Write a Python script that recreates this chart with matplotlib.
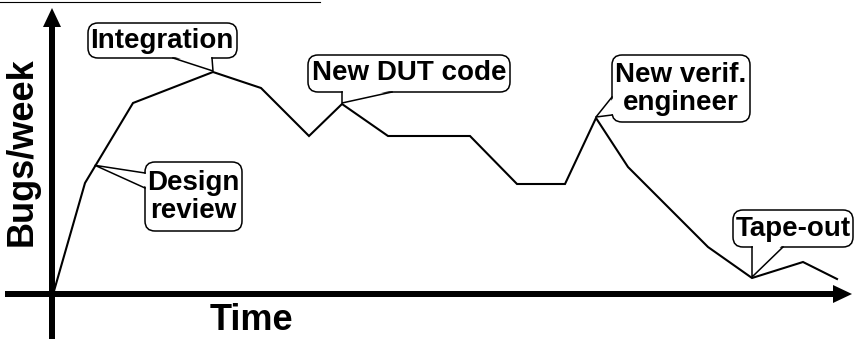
import numpy as np
import matplotlib.pyplot as plt
from matplotlib.patches import FancyBboxPatch, Polygon, FancyArrow

plt.rcParams['font.family'] = ['Liberation Sans', 'DejaVu Sans']

# bug rate over time (arbitrary units)
czas = [0, 31, 79, 159, 207, 255, 288, 334, 416, 463, 511, 542, 574, 654, 698, 749, 783]
bledy = [3, 111, 191, 222, 206, 158, 190, 158, 158, 110, 110, 176, 127, 47, 16, 32, 15]

etykiety = ['Integration', 'Design\nreview', 'New DUT code', 'New verif.\nengineer', 'Tape-out']
punkty_x = [159, 41, 288, 542, 698]   # where each callout points

fig = plt.figure(figsize=(8.55, 3.39), dpi=100)
ax = fig.add_axes([0, 0, 1, 1])
ax.set_xlim(-54, 801)
ax.set_ylim(-45, 294)
ax.axis('off')

# axes with arrows
ax.add_patch(FancyArrow(-49, 0, 847, 0, width=6, head_width=18, head_length=19,
                        length_includes_head=True, color='k', lw=0, zorder=2))
ax.add_patch(FancyArrow(-2, -45, 0, 331, width=6, head_width=18, head_length=19,
                        length_includes_head=True, color='k', lw=0, zorder=2))

ax.plot(czas, bledy, color='k', lw=1.5, zorder=3, solid_joinstyle='miter')

# thin rule at very top (remains of cropped caption)
ax.plot([-54, 266], [292, 292], color='k', lw=0.8)

ax.text(197, -27, 'Time', fontsize=26, fontweight='bold', ha='center', va='center')
ax.text(-32, 142, 'Bugs/week', fontsize=26, fontweight='bold', ha='center', va='center',
        rotation=90)

# callouts: box (x0, x1, y0, y1), tail base points, text centre
pudelka = [
    ((34, 183, 236, 271), [(119, 236), (158, 236)], (108, 253)),
    ((91, 188, 63, 132), [(91, 121), (91, 106)], (139, 97)),
    ((254, 456, 202, 239), [(288, 202), (338, 202)], (355, 221)),
    ((558, 696, 172, 239), [(558, 197), (558, 179)], (627, 205)),
    ((679, 799, 47, 84), [(698, 47), (729, 47)], (739, 65)),
]

for (box, baza, srodek), tekst, px in zip(pudelka, etykiety, punkty_x):
    x0, x1, y0, y1 = box
    py = np.interp(px, czas, bledy) + 1
    ax.add_patch(FancyBboxPatch((x0, y0), x1 - x0, y1 - y0,
                                boxstyle='round,pad=0,rounding_size=10',
                                fc='white', ec='k', lw=1.1, zorder=4))
    # white wedge hides the box border where the tail joins
    (ax_, ay_), (bx_, by_) = baza
    if ay_ == by_:
        wn = [(ax_ + 1, ay_ + 1.5), (bx_ - 1, by_ + 1.5)]
    else:
        wn = [(ax_ + 1.5, ay_ - 1), (bx_ + 1.5, by_ + 1)]
    ax.add_patch(Polygon([wn[0], (px, py), wn[1]], closed=True, fc='white', ec='none',
                         zorder=5))
    ax.plot([ax_, px, bx_], [ay_, py, by_], color='k', lw=1.1, zorder=6)
    ax.text(srodek[0], srodek[1], tekst, fontsize=20, fontweight='bold', ha='center',
            va='center', linespacing=1.15, zorder=7)

fig.savefig('out.png', dpi=100)
